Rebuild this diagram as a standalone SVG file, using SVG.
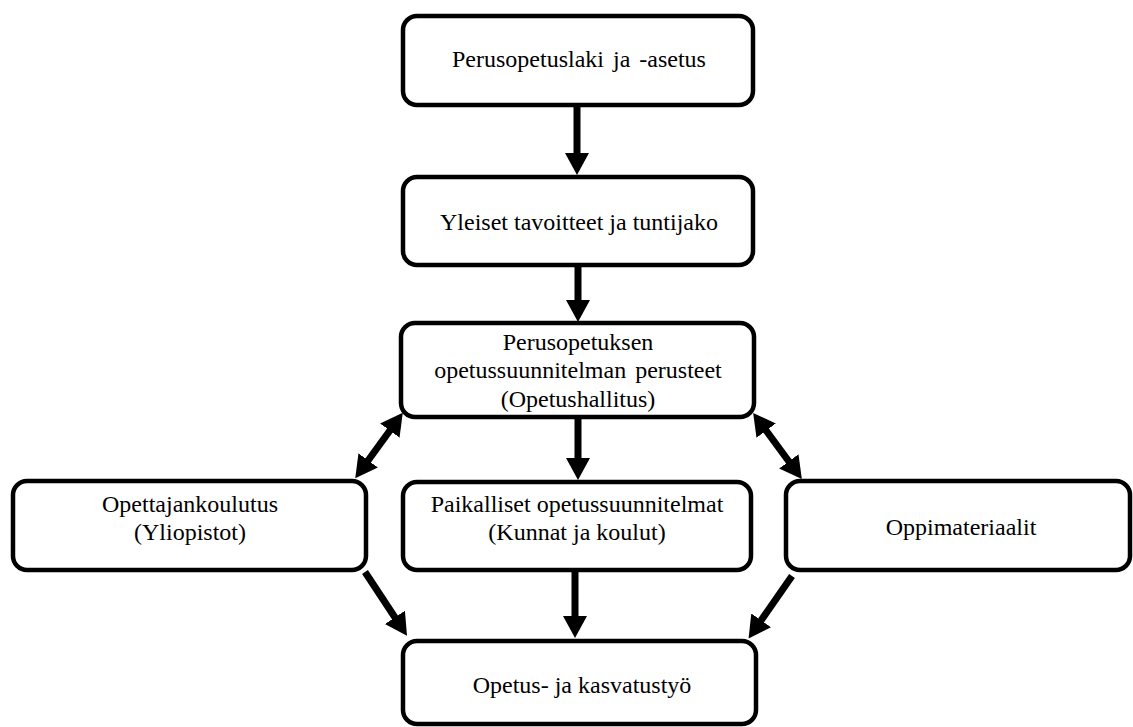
<svg xmlns="http://www.w3.org/2000/svg" width="1133" height="727" viewBox="0 0 1133 727">
  <style>
    .box { fill: #ffffff; stroke: #000000; stroke-width: 4.5; }
    .lbl { font-family: "Liberation Serif", "Times New Roman", serif; font-size: 24px; fill: #000000; text-anchor: middle; }
    .edge { stroke: #000000; stroke-width: 7; fill: none; }
  </style>
  <defs>
    <marker id="head" markerUnits="userSpaceOnUse" markerWidth="24" markerHeight="26" refX="2" refY="12" orient="auto-start-reverse">
      <path d="M0,0 L22,12 L0,24 z" fill="#000000"/>
    </marker>
  </defs>
  <rect width="1133" height="727" fill="#ffffff"/>

  <g id="connectors">
    <line class="edge" x1="577" y1="107" x2="577" y2="155" marker-end="url(#head)"/>
    <line class="edge" x1="578" y1="267" x2="578" y2="302" marker-end="url(#head)"/>
    <line class="edge" x1="578" y1="419" x2="578" y2="460" marker-end="url(#head)"/>
    <line class="edge" x1="575" y1="572" x2="575" y2="618" marker-end="url(#head)"/>
    <line class="edge" x1="391" y1="429" x2="367" y2="462" marker-start="url(#head)" marker-end="url(#head)"/>
    <line class="edge" x1="765" y1="429" x2="790" y2="463" marker-start="url(#head)" marker-end="url(#head)"/>
    <line class="edge" x1="365" y1="572" x2="396" y2="619" marker-end="url(#head)"/>
    <line class="edge" x1="792" y1="576" x2="760" y2="622" marker-end="url(#head)"/>
  </g>

  <g id="laki">
    <rect class="box" x="403" y="16" width="350" height="89" rx="14"/>
    <text class="lbl" x="579" y="67" word-spacing="3">Perusopetuslaki ja -asetus</text>
  </g>
  <g id="tavoitteet">
    <rect class="box" x="403" y="177" width="350" height="88" rx="14"/>
    <text class="lbl" x="579" y="230">Yleiset tavoitteet ja tuntijako</text>
  </g>
  <g id="perusteet">
    <rect class="box" x="401" y="323" width="353" height="94" rx="14"/>
    <text class="lbl" x="578" y="350">Perusopetuksen</text>
    <text class="lbl" x="578" y="378" word-spacing="3">opetussuunnitelman perusteet</text>
    <text class="lbl" x="578" y="407">(Opetushallitus)</text>
  </g>
  <g id="opettajankoulutus">
    <rect class="box" x="13" y="481" width="353" height="89" rx="14"/>
    <text class="lbl" x="190" y="512">Opettajankoulutus</text>
    <text class="lbl" x="190" y="540">(Yliopistot)</text>
  </g>
  <g id="paikalliset">
    <rect class="box" x="403" y="482" width="348" height="88" rx="14"/>
    <text class="lbl" x="577" y="512">Paikalliset opetussuunnitelmat</text>
    <text class="lbl" x="577" y="540">(Kunnat ja koulut)</text>
  </g>
  <g id="oppimateriaalit">
    <rect class="box" x="786" y="481" width="344" height="89" rx="14"/>
    <text class="lbl" x="961" y="535">Oppimateriaalit</text>
  </g>
  <g id="opetustyo">
    <rect class="box" x="403" y="641" width="353" height="83" rx="14"/>
    <text class="lbl" x="582" y="693">Opetus-  ja kasvatustyö</text>
  </g>
</svg>
